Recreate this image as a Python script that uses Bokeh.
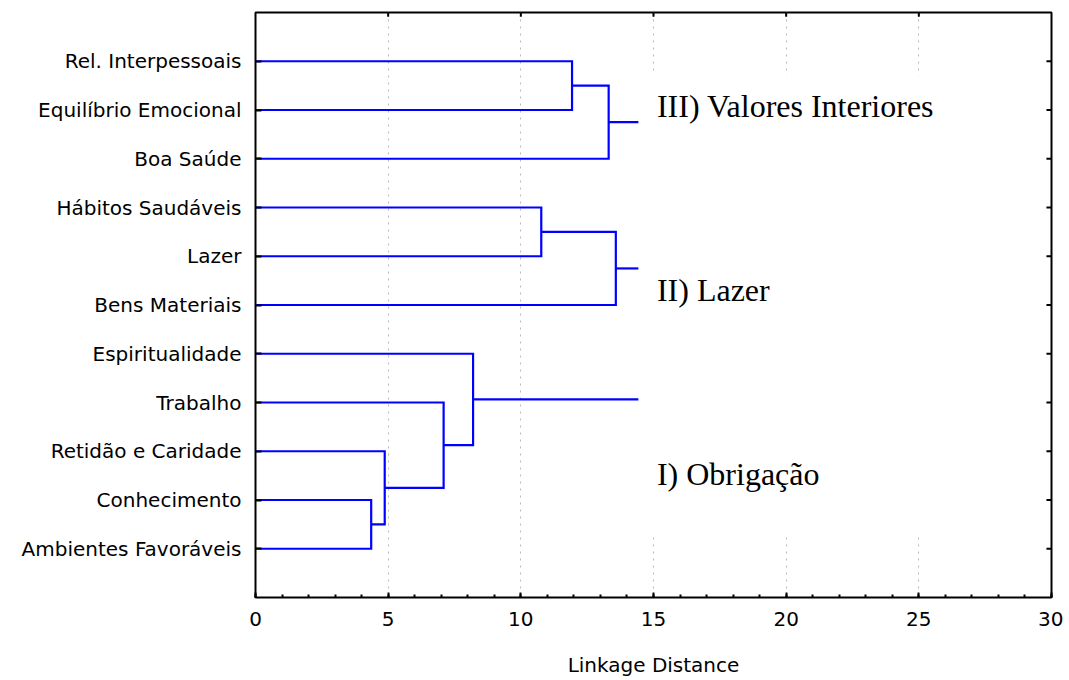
from bokeh.plotting import figure
from bokeh.models import Range1d, FixedTicker
from bokeh.core.properties import value
from bokeh.embed import file_html
from bokeh.resources import INLINE

# ---- data ----
leaves = ["Rel. Interpessoais", "Equilíbrio Emocional", "Boa Saúde",
          "Hábitos Saudáveis", "Lazer", "Bens Materiais", "Espiritualidade",
          "Trabalho", "Retidão e Caridade", "Conhecimento", "Ambientes Favoráveis"]
# merges: (child a, child b, linkage distance); new node ids start at len(leaves)
merge_a = [9, 8, 7, 6, 3, 0, 16, 15]
merge_b = [10, 11, 12, 13, 4, 1, 2, 5]
merge_h = [4.36, 4.87, 7.09, 8.20, 10.77, 11.93, 13.31, 13.58]
root_nodes = [17, 18, 14]
root_stub_end = 14.43
cluster_names = ["III) Valores Interiores", "II) Lazer", "I) Obrigação"]
cluster_label_x = [15.13, 15.13, 15.13]
cluster_label_y = [1.91, 5.70, 9.46]
x_ticks = [0, 5, 10, 15, 20, 25, 30]
x_max = 30

# ---- dendrogram geometry from linkage ----
n = len(leaves)
pos = {i: i + 1 for i in range(n)}
hgt = {i: 0.0 for i in range(n)}
xs, ys = [], []
for k, (a, b, h) in enumerate(zip(merge_a, merge_b, merge_h)):
    node = n + k
    xs.append([hgt[a], h, h, hgt[b]])
    ys.append([pos[a], pos[a], pos[b], pos[b]])
    pos[node] = (pos[a] + pos[b]) / 2.0
    hgt[node] = h
for r in root_nodes:
    xs.append([hgt[r], root_stub_end])
    ys.append([pos[r], pos[r]])

p = figure(output_backend="svg", toolbar_location=None,
           frame_width=796, frame_height=585,
           x_range=Range1d(0, x_max), y_range=Range1d(n + 1, 0),
           min_border_left=255, min_border_top=12, min_border_right=12,
           min_border_bottom=80, background_fill_color="white",
           border_fill_color="white")
p.outline_line_color = "black"
p.outline_line_width = 2

# grid
p.ygrid.grid_line_color = None
p.xgrid.ticker = FixedTicker(ticks=x_ticks[1:-1])
p.xgrid.grid_line_color = "#b8b8b8"
p.xgrid.grid_line_dash = "2 5"
p.xgrid.grid_line_width = 1

# white panel behind annotations (covers grid)
p.quad(left=[14.45], right=[29.55], top=[1.29], bottom=[10.69],
       fill_color="white", line_color=None)

# inner ticks on top and right frame edges
top_ticks = x_ticks[1:-1]
p.segment(x0=top_ticks, y0=[0] * len(top_ticks), x1=top_ticks,
          y1=[0.085] * len(top_ticks), line_color="black", line_width=2)
leaf_pos = list(range(1, n + 1))
p.segment(x0=[x_max - 0.19] * n, y0=leaf_pos, x1=[x_max] * n, y1=leaf_pos,
          line_color="black", line_width=2)

p.multi_line(xs, ys, line_color="#0000ff", line_width=2.2, line_join="miter")

p.text(x=cluster_label_x, y=cluster_label_y, text=cluster_names,
       text_font=value("Liberation Serif"), text_font_size="32px",
       text_color="black", text_baseline="middle", text_align="left")

# axes
lab_font = "DejaVu Sans"
xa = p.xaxis[0]
xa.ticker = FixedTicker(ticks=x_ticks, minor_ticks=list(range(x_max + 1)))
xa.axis_label = "Linkage Distance"
xa.axis_label_text_font = lab_font
xa.axis_label_text_font_style = "normal"
xa.axis_label_text_font_size = "20px"
xa.axis_label_text_color = "#000000"
xa.axis_label_standoff = 24
xa.major_label_text_font = lab_font
xa.major_label_text_font_size = "20px"
xa.major_label_text_color = "#000000"
xa.major_label_standoff = 14
xa.major_tick_in = 5
xa.major_tick_out = 0
xa.minor_tick_in = 3
xa.minor_tick_out = 0
xa.axis_line_color = None
xa.major_tick_line_color = "black"
xa.major_tick_line_width = 2
xa.minor_tick_line_color = "black"
xa.minor_tick_line_width = 2

ya = p.yaxis[0]
ya.ticker = FixedTicker(ticks=leaf_pos)
ya.major_label_overrides = {i + 1: name for i, name in enumerate(leaves)}
ya.major_label_text_font = lab_font
ya.major_label_text_font_size = "20px"
ya.major_label_text_color = "#000000"
ya.major_label_standoff = 14
ya.major_tick_in = 6
ya.major_tick_out = 0
ya.minor_tick_line_color = None
ya.axis_line_color = None
ya.major_tick_line_width = 2

open("out.html", "w").write(file_html(p, INLINE))
